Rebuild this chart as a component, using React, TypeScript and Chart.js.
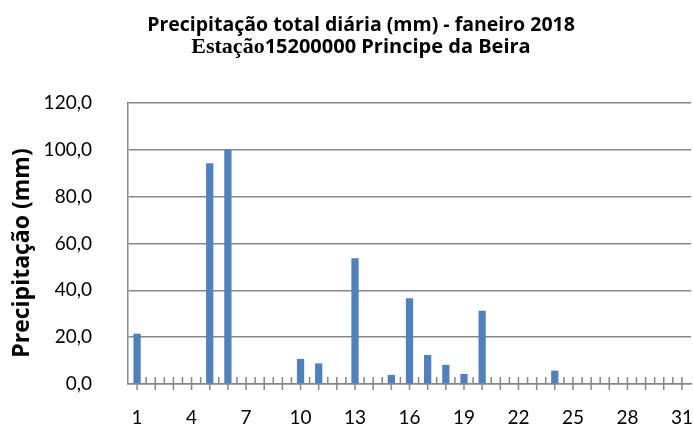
import React, { useEffect, useRef } from "react";
import { Chart, registerables } from "chart.js";

Chart.register(...registerables);

const TITLE_LINE1 = "Precipitação total diária (mm) - faneiro 2018";
const TITLE_LINE2_SERIF = "Estação";
const TITLE_LINE2_SANS = "15200000 Principe da Beira";
const Y_TITLE = "Precipitação (mm)";

const days = [
  "1", "2", "3", "4", "5", "6", "7", "8", "9", "10",
  "11", "12", "13", "14", "15", "16", "17", "18", "19", "20",
  "21", "22", "23", "24", "25", "26", "27", "28", "29", "30", "31",
];

const precipitation = [
  21.5, 0, 0, 0, 94.3, 100.0, 0, 0, 0, 10.7,
  8.8, 0, 53.7, 0, 3.9, 36.6, 12.4, 8.2, 4.3, 31.3,
  0, 0, 0, 5.7, 0, 0, 0, 0, 0, 0, 0,
];

const BAR_COLOR = "#4F81BD";
const AXIS_COLOR = "#878787";
const SANS = "Lato, 'Open Sans', sans-serif";
const BOLD_SANS = "'Open Sans', Lato, sans-serif";

const titlePlugin = {
  id: "twoFontTitle",
  afterDraw(chart: any) {
    const ctx = chart.ctx;
    const cx = 361;
    ctx.save();
    ctx.fillStyle = "#000";
    ctx.textBaseline = "alphabetic";
    ctx.textAlign = "left";
    ctx.font = `bold 19.5px ${BOLD_SANS}`;
    const w1 = ctx.measureText(TITLE_LINE1).width;
    ctx.fillText(TITLE_LINE1, cx - w1 / 2, 31);
    const serifFont = "bold 22px 'Liberation Serif', 'DejaVu Serif', serif";
    const sansFont = `bold 20px ${BOLD_SANS}`;
    ctx.font = serifFont;
    const wa = ctx.measureText(TITLE_LINE2_SERIF).width;
    ctx.font = sansFont;
    const wb = ctx.measureText(TITLE_LINE2_SANS).width;
    const x0 = cx - (wa + wb) / 2;
    ctx.font = serifFont;
    ctx.fillText(TITLE_LINE2_SERIF, x0, 53);
    ctx.font = sansFont;
    ctx.fillText(TITLE_LINE2_SANS, x0 + wa, 53);

    // y-axis title
    ctx.translate(22, 253);
    ctx.rotate(-Math.PI / 2);
    ctx.textAlign = "center";
    ctx.textBaseline = "middle";
    ctx.font = `bold 23px ${BOLD_SANS}`;
    ctx.fillText(Y_TITLE, 0, 0);
    ctx.restore();
  },
};

const tickMarksPlugin = {
  id: "excelTicks",
  beforeDatasetsDraw(chart: any) {
    const x = chart.scales.x;
    const y0 = chart.chartArea.bottom;
    const ctx = chart.ctx;
    ctx.save();
    ctx.strokeStyle = AXIS_COLOR;
    ctx.lineWidth = 1.5;
    ctx.beginPath();
    const n = days.length;
    for (let i = 0; i < n; i++) {
      const px = x.getPixelForValue(i);
      ctx.moveTo(px, y0 - 7);
      ctx.lineTo(px, y0 + 6);
      if (i < n - 1) {
        const mid = (px + x.getPixelForValue(i + 1)) / 2;
        ctx.moveTo(mid, y0 - 7);
        ctx.lineTo(mid, y0);
      }
    }
    ctx.stroke();
    ctx.restore();
  },
};

export default function App() {
  const canvasRef = useRef<HTMLCanvasElement | null>(null);

  useEffect(() => {
    if (!canvasRef.current) return;
    const chart = new Chart(canvasRef.current, {
      type: "bar",
      data: {
        labels: days,
        datasets: [
          {
            data: precipitation,
            backgroundColor: BAR_COLOR,
            borderWidth: 0,
            barPercentage: 0.4,
            categoryPercentage: 1,
          },
        ],
      },
      plugins: [tickMarksPlugin, titlePlugin],
      options: {
        responsive: false,
        animation: false,
        layout: { padding: { top: 103, right: 2, left: 0, bottom: 0 } },
        plugins: {
          legend: { display: false },
          title: { display: false },
          tooltip: { enabled: false },
        },
        scales: {
          x: {
            grid: { display: false, drawTicks: false },
            border: { display: true, color: AXIS_COLOR, width: 1.5 },
            ticks: {
              autoSkip: false,
              maxRotation: 0,
              padding: 22,
              color: "#000",
              font: { family: SANS, size: 19 },
              callback: (_v: any, i: number) => (i % 3 === 0 ? days[i] : ""),
            },
            afterFit: (s: any) => {
              s.height = 46;
              s.paddingLeft = 0;
              s.paddingRight = 0;
            },
          },
          y: {
            min: 0,
            max: 120,
            grid: { color: AXIS_COLOR, lineWidth: 1.5, drawTicks: false },
            border: { display: true, color: AXIS_COLOR, width: 1.5 },
            ticks: {
              stepSize: 20,
              padding: 36,
              color: "#000",
              font: { family: SANS, size: 19 },
              callback: (v: any) => Number(v).toFixed(1).replace(".", ","),
            },
            afterFit: (s: any) => {
              s.width = 128;
              s.paddingTop = 0;
              s.paddingBottom = 0;
            },
          },
        },
      },
    });
    return () => chart.destroy();
  }, []);

  return (
    <div style={{ position: "absolute", left: 0, top: 0, width: 693, height: 430, background: "#fff" }}>
      <canvas ref={canvasRef} width={693} height={430} style={{ display: "block" }} />
    </div>
  );
}
